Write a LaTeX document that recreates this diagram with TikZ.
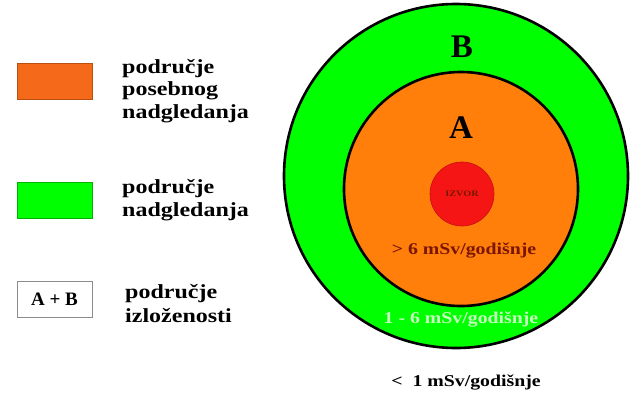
\documentclass[tikz,border=0pt]{standalone}
\usepackage{fontspec}
\setmainfont{Liberation Serif}[FakeStretch=1.2]
\newfontfamily\plainserif{Liberation Serif}
\definecolor{zoneA}{HTML}{FF7F0A}
\definecolor{zoneB}{HTML}{00FF00}
\definecolor{src}{HTML}{F51515}
\definecolor{legA}{HTML}{F56A1A}
\definecolor{darkred}{HTML}{7A1500}
\definecolor{lightgreen}{HTML}{C8FFC0}
\tikzset{
  zone/.style={circle, draw=black, line width=2.6pt, inner sep=0pt},
  legbox/.style={rectangle, minimum width=75pt, minimum height=36pt, inner sep=0pt, line width=0.8pt},
  legtext/.style={anchor=base west, align=left, inner sep=0pt, font=\bfseries\fontsize{20}{22.5}\selectfont},
  dose/.style={inner sep=0pt, font=\bfseries\fontsize{16.5}{18}\selectfont},
  zonelabel/.style={inner sep=0pt, font=\plainserif\bfseries\fontsize{33}{36}\selectfont}
}
\begin{document}
\begin{tikzpicture}[x=1pt,y=-1pt]
\useasboundingbox (0,0) rectangle (630,392);
% circles
\node[zone, fill=zoneB, minimum size=344pt] (outer) at (456,176) {};
\node[zone, fill=zoneA, minimum size=234pt] (inner) at (461,189) {};
\node[circle, fill=src, draw=src!80!black, line width=0.6pt, minimum size=64pt, inner sep=0pt] (izvor) at (462,194) {};
\node[inner sep=0pt, text=darkred, font=\bfseries\fontsize{8.5}{10}\selectfont] (izvortxt) at (462,194) {IZVOR};
\node[zonelabel] (B) at (462,47) {B};
\node[zonelabel] (A) at (461,128) {A};
\node[dose, text=darkred] (d6) at (464,250) {> 6 mSv/godišnje};
\node[dose, text=lightgreen] (d16) at (461,319) {1 - 6 mSv/godišnje};
\node[dose, text=black] (d1) at (466,382) {<\ \ 1 mSv/godišnje};
% legend
\node[legbox, fill=legA, draw=legA!75!black] (legA) at (54.5,81) {};
\node[legbox, fill=zoneB, draw=zoneB!70!black] (legB) at (54.5,200) {};
\node[legbox, fill=white, draw=black!45] (legAB) at (54.5,299.5) {\plainserif\bfseries\fontsize{19}{20}\selectfont A + B};
% base anchor of a multi-line node is the baseline of its last line
\node[legtext] (tA) at (122,118) {područje\\posebnog\\nadgledanja};
\node[legtext] (tB) at (122,216) {područje\\nadgledanja};
\node[legtext, font=\bfseries\fontsize{20}{24}\selectfont] (tAB) at (125,322) {područje\\izloženosti};
\end{tikzpicture}
\end{document}
